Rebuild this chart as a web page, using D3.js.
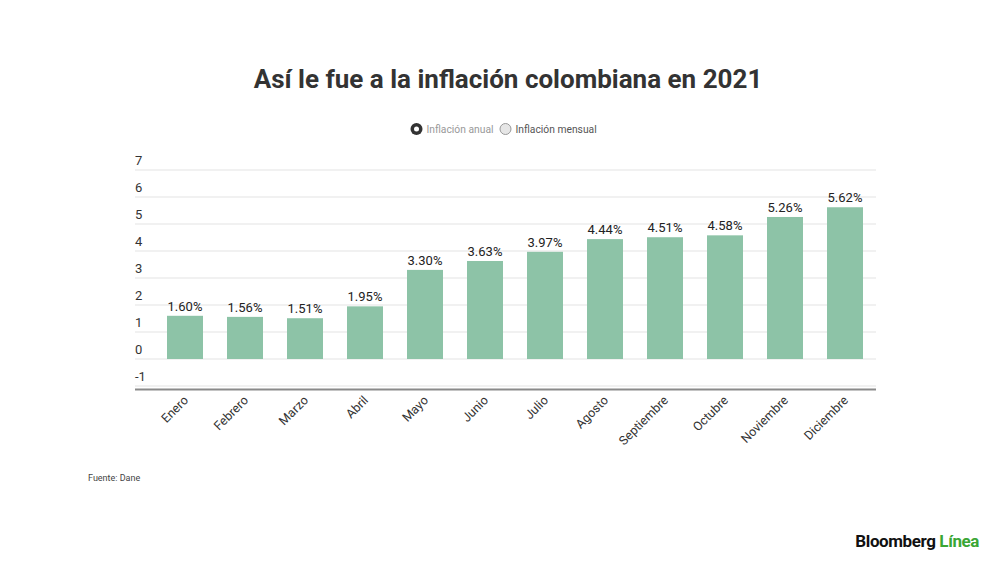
<!DOCTYPE html>
<html>
<head>
<meta charset="utf-8">
<script src="https://cdn.jsdelivr.net/npm/d3@7"></script>
<style>
  body { margin: 0; background: #fff; font-family: Roboto, "Noto Sans", sans-serif; }
</style>
</head>
<body>
<div id="chart"></div>
<script>
const months = ['Enero', 'Febrero', 'Marzo', 'Abril', 'Mayo', 'Junio', 'Julio', 'Agosto', 'Septiembre', 'Octubre', 'Noviembre', 'Diciembre'];
const annual = [1.60, 1.56, 1.51, 1.95, 3.30, 3.63, 3.97, 4.44, 4.51, 4.58, 5.26, 5.62];
const yTicks = [-1, 0, 1, 2, 3, 4, 5, 6, 7];
const legendItems = ['Inflación anual', 'Inflación mensual'];

const width = 1000;
const height = 562;

const svg = d3.select('#chart').append('svg')
  .attr('width', width)
  .attr('height', height);

// title
svg.append('text')
  .attr('x', 508).attr('y', 88)
  .attr('text-anchor', 'middle')
  .attr('font-size', 26).attr('font-weight', 700)
  .attr('fill', '#333')
  .text('Así le fue a la inflación colombiana en 2021');

// legend (radio style)
const legendX = [416.5, 505.5];
legendItems.forEach((t, i) => {
  const g = svg.append('g').attr('transform', `translate(${legendX[i]},129)`);
  if (i === 0) {
    g.append('circle').attr('r', 6).attr('fill', '#333');
    g.append('circle').attr('r', 2.5).attr('fill', '#fff');
  } else {
    g.append('circle').attr('r', 5.5).attr('fill', '#e6e6e6').attr('stroke', '#999').attr('stroke-width', 1);
  }
  g.append('text')
    .attr('x', 10).attr('y', 4)
    .attr('font-size', 10.3)
    .attr('fill', i === 0 ? '#999' : '#555')
    .text(t);
});

const xScale = d3.scaleBand()
  .domain(months)
  .range([155, 875])
  .paddingInner(0.4)
  .paddingOuter(0.2);

const yScale = d3.scaleLinear()
  .domain([-1, 7])
  .range([386, 170]);

// gridlines + y labels
const grid = svg.append('g');
grid.selectAll('line').data(yTicks)
  .enter().append('line')
  .attr('x1', 135).attr('x2', 876)
  .attr('y1', d => yScale(d)).attr('y2', d => yScale(d))
  .attr('stroke', '#e3e3e3').attr('stroke-width', 1);
grid.selectAll('text').data(yTicks)
  .enter().append('text')
  .attr('x', 135)
  .attr('y', d => yScale(d) - 5)
  .attr('font-size', 13)
  .attr('fill', '#333')
  .text(d => d);

// bars
svg.selectAll('rect.bar').data(annual)
  .enter().append('rect')
  .attr('class', 'bar')
  .attr('x', (d, i) => xScale(months[i]))
  .attr('width', xScale.bandwidth())
  .attr('y', d => yScale(d))
  .attr('height', d => yScale(0) - yScale(d))
  .attr('fill', '#8dc3a7');

// value labels
svg.selectAll('text.val').data(annual)
  .enter().append('text')
  .attr('class', 'val')
  .attr('x', (d, i) => xScale(months[i]) + xScale.bandwidth() / 2)
  .attr('y', d => yScale(d) - 5)
  .attr('text-anchor', 'middle')
  .attr('font-size', 13)
  .attr('fill', '#222')
  .text(d => d.toFixed(2) + '%');

// bottom axis line
svg.append('line')
  .attr('x1', 135).attr('x2', 876)
  .attr('y1', 389.5).attr('y2', 389.5)
  .attr('stroke', '#8a8a8a').attr('stroke-width', 2);

// month labels, rotated
svg.selectAll('text.month').data(months)
  .enter().append('text')
  .attr('class', 'month')
  .attr('text-anchor', 'end')
  .attr('font-size', 12.5)
  .attr('fill', '#333')
  .attr('transform', d => `translate(${xScale(d) + xScale.bandwidth() / 2 + 4},401) rotate(-45)`)
  .text(d => d);

// source
svg.append('text')
  .attr('x', 88).attr('y', 481)
  .attr('font-size', 9)
  .attr('fill', '#444')
  .text('Fuente: Dane');

// logo
const logo = svg.append('text')
  .attr('x', 979).attr('y', 547)
  .attr('text-anchor', 'end')
  .attr('font-size', 17).attr('font-weight', 700)
  .attr('letter-spacing', -0.4);
logo.append('tspan').attr('fill', '#111').text('Bloomberg ');
logo.append('tspan').attr('fill', '#3aa635').text('Línea');
</script>
</body>
</html>
